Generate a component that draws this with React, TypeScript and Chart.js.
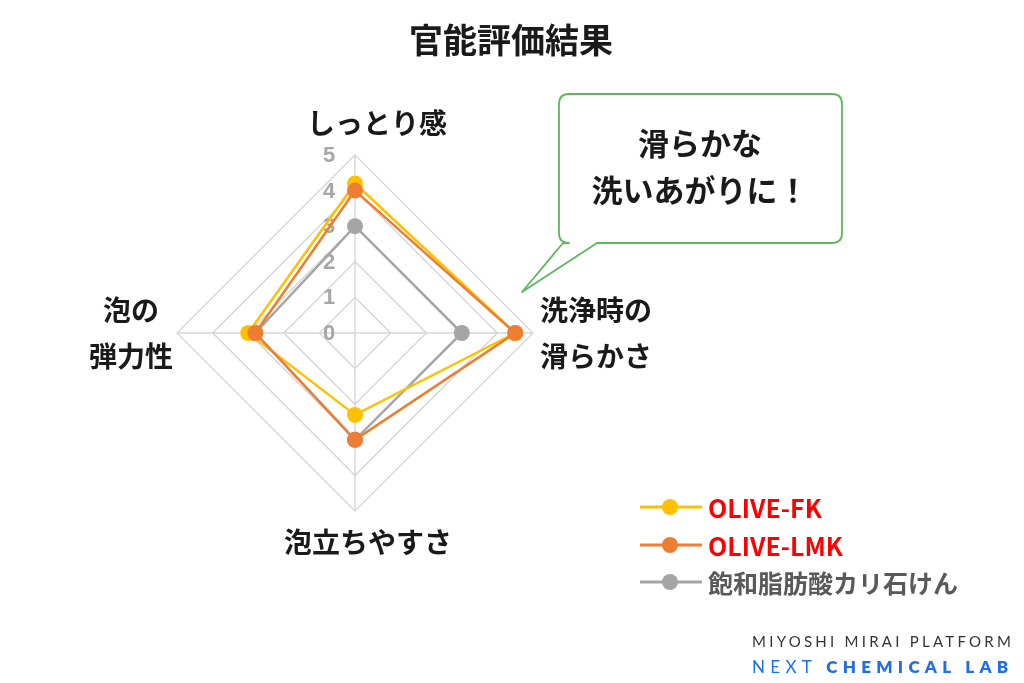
import React, { useEffect, useRef } from "react";
import { Chart, registerables } from "chart.js";

Chart.register(...registerables);

const axisLabels: string[][] = [["しっとり感"], ["洗浄時の", "滑らかさ"], ["泡立ちやすさ"], ["泡の", "弾力性"]];
const seriesNames = ["OLIVE-FK", "OLIVE-LMK", "飽和脂肪酸カリ石けん"];
const oliveFK = [4.2, 4.5, 2.3, 3.0];
const oliveLMK = [4.0, 4.5, 3.0, 2.8];
const potassiumSoap = [3.0, 3.0, 3.0, 2.8];
const tickValues = [0, 1, 2, 3, 4, 5];
const seriesColors = ["#FFC000", "#ED7D31", "#A5A5A5"];
const legendTextColors = ["#FF0000", "#FF0000", "#595959"];
const drawOrder = [1, 0, 2];

const JP = '"Noto Sans CJK JP", "Noto Sans", sans-serif';

const labelPlugin = {
  id: "customLabels",
  beforeDatasetsDraw(chart: any) {
    const scale = chart.scales.r;
    const ctx = chart.ctx;
    ctx.save();
    ctx.font = `bold 22px "Liberation Sans", "Noto Sans", sans-serif`;
    ctx.fillStyle = "#A6A6A6";
    ctx.textAlign = "center";
    ctx.textBaseline = "middle";
    scale.ticks.forEach((t: any) => {
      const p = scale.getPointPositionForValue(0, t.value);
      ctx.fillText(String(t.value), p.x - 26, p.y + 1);
    });
    ctx.restore();
  },
  afterDraw(chart: any) {
    const scale = chart.scales.r;
    const ctx = chart.ctx;
    ctx.save();
    ctx.font = `bold 28px ${JP}`;
    ctx.fillStyle = "#1A1A1A";
    ctx.textBaseline = "middle";
    const R = scale.drawingArea;
    axisLabels.forEach((lines, i) => {
      const p = scale.getPointPosition(i, R);
      const lh = 46;
      let x = p.x;
      let y = p.y;
      if (i === 0) { ctx.textAlign = "center"; x += 22; y -= 32; }
      else if (i === 1) { ctx.textAlign = "left"; x += 7; y -= lh / 2; }
      else if (i === 2) { ctx.textAlign = "center"; x += 13; y += 31; }
      else { ctx.textAlign = "center"; x -= 46; y -= lh / 2; }
      lines.forEach((l, k) => ctx.fillText(l, x, y + k * lh));
    });
    ctx.restore();
  },
};

function RadarChart() {
  const ref = useRef<HTMLCanvasElement>(null);
  useEffect(() => {
    if (!ref.current) return;
    const series = [oliveFK, oliveLMK, potassiumSoap];
    const chart = new Chart(ref.current, {
      type: "radar",
      data: {
        labels: axisLabels.map((l) => l.join("")),
        datasets: series.map((d, i) => ({
          label: seriesNames[i],
          data: d,
          borderColor: seriesColors[i],
          backgroundColor: seriesColors[i],
          pointBackgroundColor: seriesColors[i],
          pointBorderColor: seriesColors[i],
          pointBorderWidth: 0,
          pointRadius: 8,
          borderWidth: 2.5,
          fill: false,
          order: drawOrder[i],
        })),
      },
      options: {
        animation: false,
        responsive: true,
        maintainAspectRatio: false,
        layout: { padding: { left: 177, right: 491, top: 155, bottom: 172 } },
        plugins: { legend: { display: false }, title: { display: false }, tooltip: { enabled: false } },
        scales: {
          r: {
            min: tickValues[0],
            max: tickValues[tickValues.length - 1],
            ticks: { display: false, stepSize: 1 },
            grid: { color: "#D6D6D6", lineWidth: 1.4 },
            angleLines: { color: "#D6D6D6", lineWidth: 1.4 },
            pointLabels: { display: false },
          },
        },
      },
      plugins: [labelPlugin],
    } as any);
    return () => chart.destroy();
  }, []);
  return <canvas ref={ref} />;
}

export default function App() {
  return (
    <div style={{ position: "fixed", left: 0, top: 0, width: 1024, height: 683, background: "#fff", overflow: "hidden", fontFamily: JP }}>
      <div style={{ position: "absolute", left: 0, top: 0, width: 1024, height: 683 }}>
        <RadarChart />
      </div>
      <div style={{ position: "absolute", left: 0, width: 1022, top: 17, textAlign: "center", fontSize: 34, fontWeight: 700, color: "#1A1A1A", lineHeight: "44px" }}>
        官能評価結果
      </div>
      <svg style={{ position: "absolute", left: 0, top: 0 }} width={1024} height={683}>
        <path
          d="M 569 94 L 832 94 Q 842 94 842 104 L 842 233 Q 842 243 832 243 L 597 243 L 522 292 L 563 243 L 569 243 Q 559 243 559 233 L 559 104 Q 559 94 569 94 Z"
          fill="#fff"
          stroke="#5DB85C"
          strokeWidth={1.8}
          strokeLinejoin="round"
        />
      </svg>
      <div style={{ position: "absolute", left: 558, width: 284, top: 118, textAlign: "center", fontSize: 31, fontWeight: 700, color: "#1A1A1A", lineHeight: "47px" }}>
        滑らかな<br />洗いあがりに！
      </div>
      {seriesNames.map((n, i) => (
        <div key={n} style={{ position: "absolute", left: 638, top: 507 + i * 37.5 - 18, height: 36, display: "flex", alignItems: "center" }}>
          <svg width={66} height={20}>
            <line x1={2} y1={10} x2={64} y2={10} stroke={seriesColors[i]} strokeWidth={3} />
            <circle cx={32} cy={10} r={8} fill={seriesColors[i]} />
          </svg>
          <span style={{ marginLeft: 4, fontSize: 25, fontWeight: 700, color: legendTextColors[i], whiteSpace: "nowrap" }}>{n}</span>
        </div>
      ))}
      <div style={{ position: "absolute", left: 752, top: 631, fontFamily: "Lato, 'Open Sans', sans-serif", fontSize: 15, letterSpacing: 3.25, color: "#333", whiteSpace: "nowrap", lineHeight: "20px" }}>
        MIYOSHI MIRAI PLATFORM
      </div>
      <div style={{ position: "absolute", left: 752, top: 656, fontFamily: "Lato, 'Open Sans', sans-serif", fontSize: 17, letterSpacing: 5.3, color: "#1F6FE5", whiteSpace: "nowrap", lineHeight: "22px" }}>
        NEXT <span style={{ fontWeight: 800 }}>CHEMICAL LAB</span>
      </div>
    </div>
  );
}
